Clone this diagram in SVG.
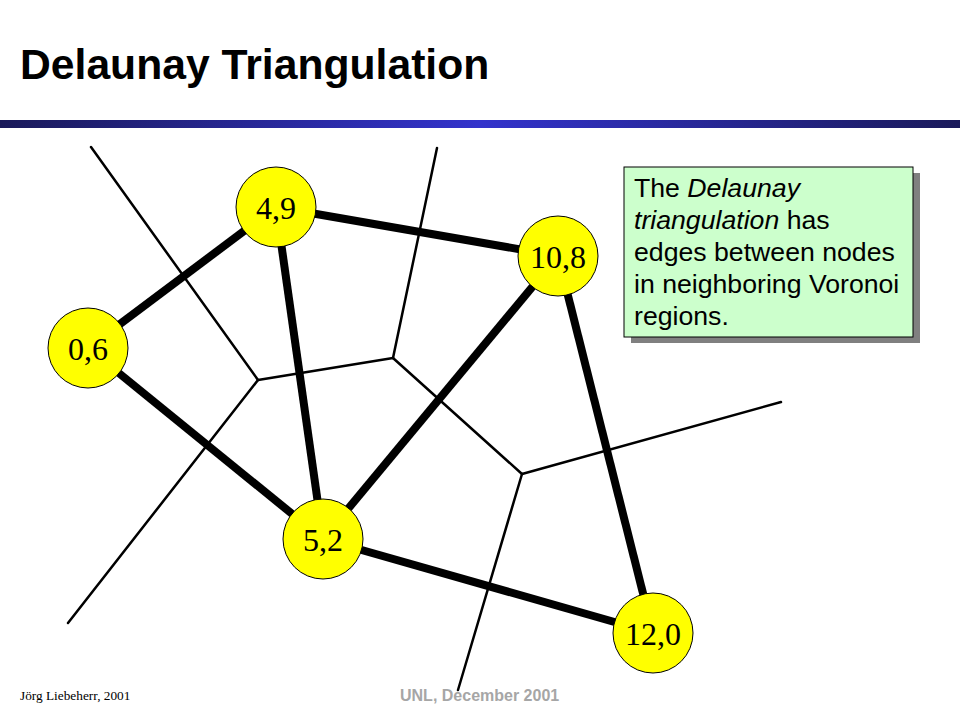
<svg xmlns="http://www.w3.org/2000/svg" width="960" height="720" viewBox="0 0 960 720">
<defs>
<linearGradient id="bar" x1="0" y1="0" x2="1" y2="0">
<stop offset="0" stop-color="#1a1a5a"/>
<stop offset="0.5" stop-color="#3333cc"/>
<stop offset="1" stop-color="#1a1a5a"/>
</linearGradient>
<style>
.vor{stroke:#000;stroke-width:2.5;fill:none;stroke-linecap:round}
.del{stroke:#000;stroke-width:8;fill:none}
.node circle{fill:#ffff00;stroke:#000;stroke-width:1}
.node text{font-family:"Liberation Serif","Times New Roman",serif;font-size:32px;fill:#000;text-anchor:middle}
.note{font-family:"Liberation Sans",Arial,sans-serif;font-size:26.67px;fill:#000}
</style>
</defs>
<rect width="960" height="720" fill="#fff"/>
<text x="20" y="79" font-family="'Liberation Sans',Arial,sans-serif" font-size="42.67" font-weight="bold" fill="#000">Delaunay Triangulation</text>
<rect x="0" y="120" width="960" height="8" fill="url(#bar)"/>
<g id="footer">
<text x="20" y="700" font-family="'Liberation Serif','Times New Roman',serif" font-size="13.3" fill="#000">Jörg Liebeherr, 2001</text>
<text x="400" y="701" font-family="'Liberation Sans',Arial,sans-serif" font-size="16" font-weight="bold" fill="#a6a6a6">UNL, December 2001</text>
</g>
<g id="connectors">
<g id="voronoi">
<line class="vor" x1="91" y1="147" x2="258" y2="380"/>
<line class="vor" x1="258" y1="380" x2="68" y2="623"/>
<line class="vor" x1="258" y1="380" x2="393" y2="358"/>
<line class="vor" x1="393" y1="358" x2="437" y2="148"/>
<line class="vor" x1="393" y1="358" x2="522" y2="474"/>
<line class="vor" x1="522" y1="474" x2="781" y2="402"/>
<line class="vor" x1="522" y1="474" x2="458" y2="690"/>
</g>
<g id="delaunay">
<line class="del" x1="88" y1="348" x2="276" y2="207"/>
<line class="del" x1="276" y1="207" x2="558" y2="256"/>
<line class="del" x1="276" y1="207" x2="323" y2="539"/>
<line class="del" x1="88" y1="348" x2="323" y2="539"/>
<line class="del" x1="323" y1="539" x2="558" y2="256"/>
<line class="del" x1="558" y1="256" x2="653" y2="633"/>
<line class="del" x1="323" y1="539" x2="653" y2="633"/>
</g>
</g>
<g id="n06" class="node"><circle cx="88" cy="348" r="40"/><text x="88" y="360">0,6</text></g>
<g id="n49" class="node"><circle cx="276" cy="207" r="40"/><text x="276" y="219">4,9</text></g>
<g id="n108" class="node"><circle cx="558" cy="256" r="40"/><text x="558" y="268">10,8</text></g>
<g id="n52" class="node"><circle cx="323" cy="539" r="40"/><text x="323" y="551">5,2</text></g>
<g id="n120" class="node"><circle cx="653" cy="633" r="40"/><text x="653" y="645">12,0</text></g>
<g id="note">
<rect x="631" y="173" width="289" height="170" fill="#808080"/>
<rect x="624" y="167" width="289" height="170" fill="#ccffcc" stroke="#000" stroke-width="1"/>
<text class="note" x="634" y="197">The <tspan font-style="italic">Delaunay</tspan></text>
<text class="note" x="634" y="229"><tspan font-style="italic">triangulation</tspan> has</text>
<text class="note" x="634" y="261">edges between nodes</text>
<text class="note" x="634" y="293">in neighboring Voronoi</text>
<text class="note" x="634" y="325">regions.</text>
</g>
</svg>
